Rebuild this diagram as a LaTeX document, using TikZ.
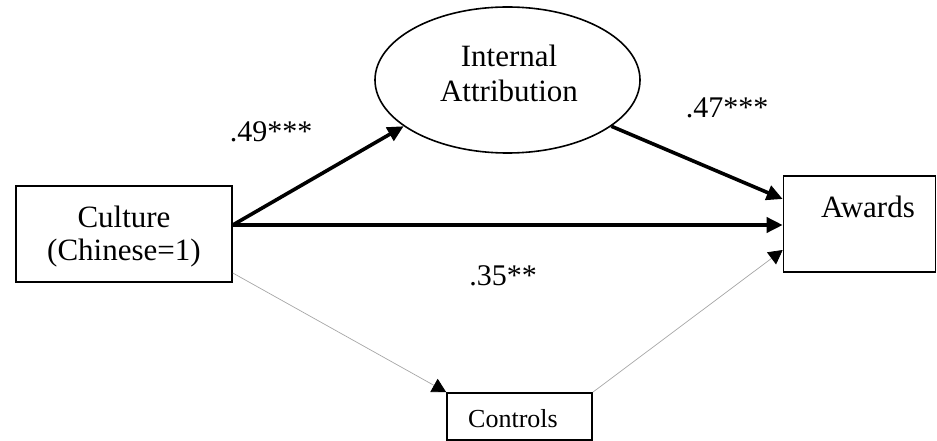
\documentclass[tikz,border=0pt]{standalone}
\usepackage{fontspec}
\setmainfont{Liberation Serif}
\usetikzlibrary{arrows.meta,shapes.geometric}
\begin{document}
\begin{tikzpicture}[x=1pt,y=-1pt,
  shapebox/.style={draw,line width=1.6pt,inner sep=0pt},
  bigtxt/.style={anchor=base,inner sep=0pt,font=\fontsize{31}{36}\selectfont},
  coef/.style={anchor=base,inner sep=0pt,font=\fontsize{30}{34}\selectfont},
  smalltxt/.style={anchor=base,inner sep=0pt,font=\fontsize{26}{30}\selectfont},
  strong/.style={line width=3.6pt,-{Triangle[length=16pt,width=15pt]}},
  weak/.style={line width=0.7pt,draw=black!35,-{Triangle[length=14pt,width=15pt,fill=black,color=black]}}]
\useasboundingbox (0,0) rectangle (937,441);
% shapes
\node[shapebox,ellipse,minimum width=265pt,minimum height=146pt] (ia) at (507.5,80) {};
\node[shapebox,rectangle,minimum width=216pt,minimum height=96pt] (culture) at (124,234) {};
\node[shapebox,rectangle,minimum width=152pt,minimum height=96pt] (awards) at (859.5,224) {};
\node[shapebox,rectangle,minimum width=145pt,minimum height=47pt] (controls) at (519.5,416.5) {};
% texts
\node[bigtxt] (t1) at (509,67) {Internal};
\node[bigtxt] (t2) at (509,102) {Attribution};
\node[bigtxt] (t3) at (124,227) {Culture};
\node[bigtxt] (t4) at (124,260) {(Chinese=1)};
\node[bigtxt] (t5) at (868,217) {Awards};
\node[smalltxt] (t6) at (513,427) {Controls};
\node[coef] (l1) at (271,142) {.49***};
\node[coef] (l2) at (727,118) {.47***};
\node[coef] (l3) at (503,285) {.35**};
% connectors
\coordinate (c1) at ([yshift=9pt]culture.east);
\draw[strong] (c1) -- (ia.204);
\draw[strong] (c1) -- (c1 -| awards.west);
\draw[strong] (ia.336) -- ([yshift=25pt]awards.west);
\draw[weak] ([yshift=-39pt]culture.east) -- (controls.north west);
\draw[weak] (controls.north east) -- ([yshift=-26pt]awards.west);
\end{tikzpicture}
\end{document}
